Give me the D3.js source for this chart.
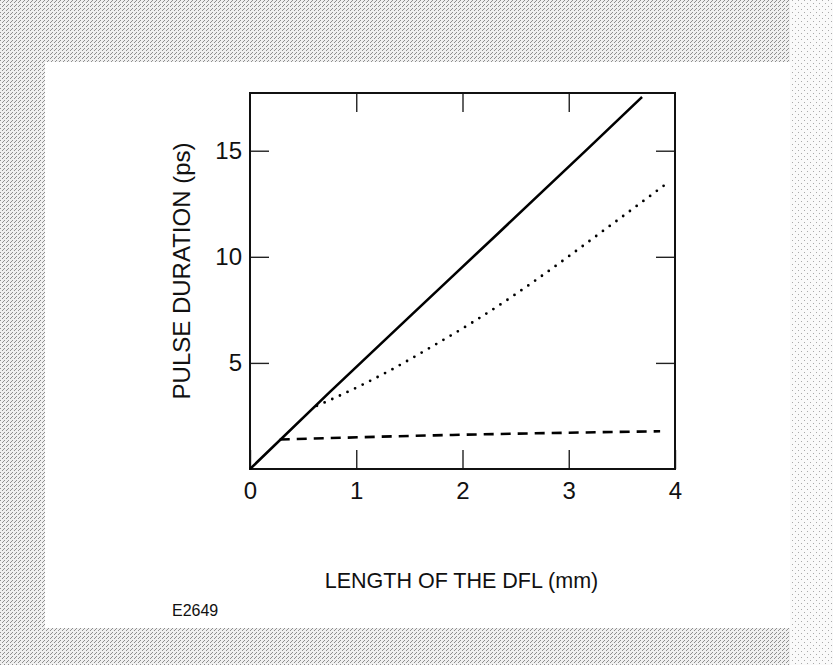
<!DOCTYPE html>
<html>
<head>
<meta charset="utf-8">
<script src="https://cdn.jsdelivr.net/npm/d3@7"></script>
<style>
  html, body { margin: 0; padding: 0; background: #ffffff; }
  svg { display: block; }
  text { font-family: "Liberation Sans", Arial, Helvetica, sans-serif; fill: #111; }
</style>
</head>
<body>
<svg id="chart" width="833" height="665"></svg>
<script>
// ---- data ----
const xTickValues = [0, 1, 2, 3, 4];
const yTickValues = [5, 10, 15];
const xTitle = "LENGTH OF THE DFL (mm)";
const yTitle = "PULSE DURATION (ps)";
const figureId = "E2649";

const solidX = [0, 0.75, 1.88, 3.17, 3.69];
const solidY = [0, 3.62, 8.96, 15.05, 17.53];

const dottedX = [0.63, 0.81, 1.32, 1.74, 2.10, 2.48, 2.63, 3.39, 3.95];
const dottedY = [2.98, 3.38, 4.65, 5.85, 6.93, 8.17, 8.69, 11.47, 13.56];

const dashedX = [0.28, 1.69, 3.86];
const dashedY = [1.39, 1.58, 1.78];

// ---- layout ----
const W = 833, H = 665;
const plot = { left: 250, right: 675, top: 93, bottom: 469 };

const svg = d3.select("#chart");

// halftone scan border (decorative)
const defs = svg.append("defs");
const pat = defs.append("pattern").attr("id", "ht").attr("width", 4).attr("height", 4)
  .attr("patternUnits", "userSpaceOnUse");
pat.append("rect").attr("width", 4).attr("height", 4).attr("fill", "#f0f0f0");
[[0,0],[2,2],[3,1]].forEach(([a,b]) =>
  pat.append("rect").attr("x", a).attr("y", b).attr("width", 1).attr("height", 1).attr("fill", "#8f8f8f"));
const pat2 = defs.append("pattern").attr("id", "ht2").attr("width", 6).attr("height", 6)
  .attr("patternUnits", "userSpaceOnUse");
pat2.append("rect").attr("width", 6).attr("height", 6).attr("fill", "#fafafa");
[[0,0],[3,3]].forEach(([a,b]) =>
  pat2.append("rect").attr("x", a).attr("y", b).attr("width", 1).attr("height", 1).attr("fill", "#aaa"));

const inner = { x0: 45, y0: 62, x1: 790, y1: 628 };
svg.append("path")
  .attr("fill", "url(#ht)")
  .attr("fill-rule", "evenodd")
  .attr("d", `M0,0H${inner.x1}V${inner.y0}H${inner.x0}V${inner.y1}H${inner.x1}V${H}H0Z`);
svg.append("rect").attr("x", inner.x1).attr("y", 0).attr("width", W - inner.x1).attr("height", H)
  .attr("fill", "url(#ht2)");
svg.append("rect").attr("x", inner.x0).attr("y", inner.y0)
  .attr("width", inner.x1 - inner.x0).attr("height", inner.y1 - inner.y0).attr("fill", "#fff");

// ---- scales ----
const x = d3.scaleLinear().domain([0, 4]).range([plot.left, plot.right]);
const y = d3.scaleLinear().domain([0, 17.72]).range([plot.bottom, plot.top]);

const g = svg.append("g");

const tickLen = 19;
const axB = g.append("g").attr("transform", `translate(0,${plot.bottom})`)
  .call(d3.axisBottom(x).tickValues(xTickValues).tickFormat(d3.format("d"))
    .tickSizeInner(-tickLen).tickSizeOuter(0).tickPadding(13));
const axT = g.append("g").attr("transform", `translate(0,${plot.top})`)
  .call(d3.axisTop(x).tickValues(xTickValues.slice(1, -1)).tickFormat("")
    .tickSizeInner(-tickLen).tickSizeOuter(0));
const axL = g.append("g").attr("transform", `translate(${plot.left},0)`)
  .call(d3.axisLeft(y).tickValues(yTickValues).tickFormat(d3.format("d"))
    .tickSizeInner(-tickLen).tickSizeOuter(0).tickPadding(8));
const axR = g.append("g").attr("transform", `translate(${plot.right},0)`)
  .call(d3.axisRight(y).tickValues(yTickValues).tickFormat("")
    .tickSizeInner(-tickLen).tickSizeOuter(0));

[axB, axT, axL, axR].forEach(a => {
  a.select(".domain").remove();
  a.selectAll(".tick line").attr("stroke", "#222").attr("stroke-width", 1.4);
  a.selectAll(".tick text").attr("fill", "#111")
    .style("font-family", '"Liberation Sans", Arial, Helvetica, sans-serif')
    .style("font-size", "24px");
});

g.append("rect")
  .attr("x", x(0)).attr("y", y(17.72))
  .attr("width", x(4) - x(0)).attr("height", y(0) - y(17.72))
  .attr("fill", "none").attr("stroke", "#111").attr("stroke-width", 2);

// ---- curves ----
const line = d3.line().x(d => x(d[0])).y(d => y(d[1])).curve(d3.curveMonotoneX);

g.append("path").datum(d3.zip(solidX, solidY))
  .attr("d", line).attr("fill", "none").attr("stroke", "#000").attr("stroke-width", 2.6);

g.append("path").datum(d3.zip(dottedX, dottedY))
  .attr("d", line).attr("fill", "none").attr("stroke", "#000").attr("stroke-width", 2.8)
  .attr("stroke-linecap", "round").attr("stroke-dasharray", "0 8.4");

g.append("path").datum(d3.zip(dashedX, dashedY))
  .attr("d", line).attr("fill", "none").attr("stroke", "#000").attr("stroke-width", 2.6)
  .attr("stroke-dasharray", "10 7");

// ---- titles ----
svg.append("text")
  .attr("x", (plot.left + plot.right) / 2 - 1).attr("y", 588)
  .attr("text-anchor", "middle").style("font-size", "21.5px")
  .text(xTitle);

svg.append("text")
  .attr("transform", `translate(190,${(plot.top + plot.bottom) / 2 - 10}) rotate(-90)`)
  .attr("text-anchor", "middle").style("font-size", "24px")
  .text(yTitle);

svg.append("text")
  .attr("x", 172).attr("y", 616)
  .style("font-size", "16px")
  .text(figureId);
</script>
</body>
</html>
